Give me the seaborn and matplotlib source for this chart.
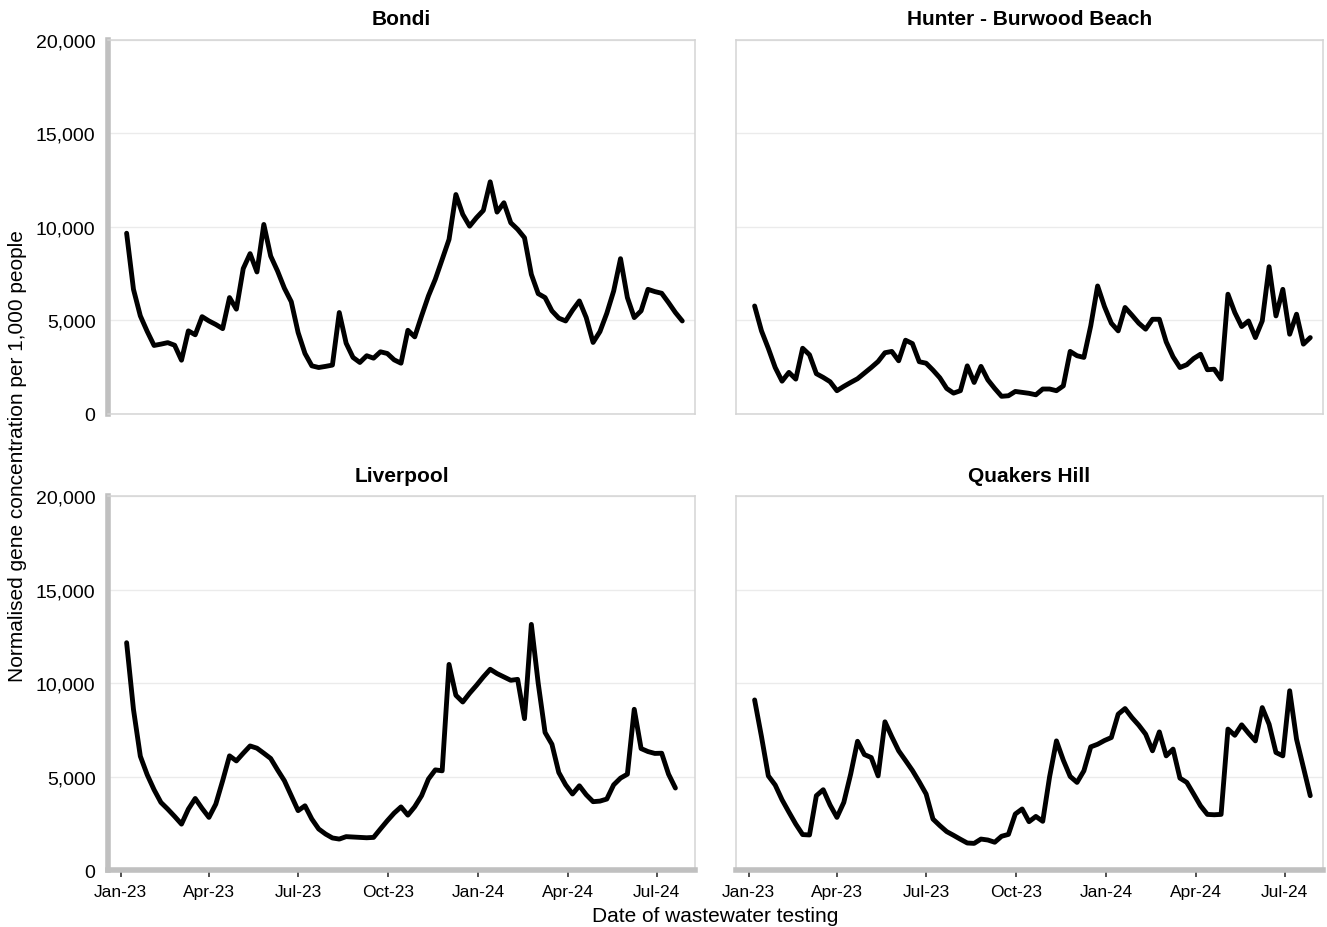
import pandas as pd
import seaborn as sns
import matplotlib.pyplot as plt
import matplotlib.dates as mdates
from matplotlib.ticker import StrMethodFormatter

# Weekly samples
start_date = '2023-01-07'

bondi = [9650, 6650, 5230, 4400, 3650, 3720, 3800, 3660, 2860, 4430,
         4220, 5190, 4960, 4770, 4550, 6210, 5590, 7760, 8560, 7580,
         10120, 8430, 7630, 6710, 5990, 4340, 3220, 2560, 2470, 2530,
         2600, 5410, 3770, 3010, 2740, 3100, 2970, 3310, 3220, 2880,
         2700, 4460, 4110, 5230, 6300, 7190, 8250, 9320, 11720, 10660,
         10030, 10480, 10870, 12400, 10780, 11280, 10210, 9860, 9410, 7450,
         6420, 6210, 5500, 5110, 4960, 5530, 6030, 5140, 3810, 4390,
         5370, 6560, 8290, 6210, 5140, 5500, 6650, 6530, 6440, 5940,
         5410, 4960]

hunter = [5760, 4430, 3490, 2470, 1740, 2210, 1850, 3500, 3150, 2140,
          1940, 1710, 1230, 1460, 1670, 1870, 2170, 2470, 2790, 3260,
          3330, 2830, 3930, 3750, 2780, 2700, 2330, 1920, 1350, 1100,
          1230, 2560, 1670, 2530, 1810, 1350, 930, 960, 1190, 1140,
          1090, 1010, 1320, 1320, 1230, 1490, 3330, 3100, 3010, 4700,
          6830, 5730, 4840, 4430, 5680, 5270, 4840, 4520, 5050, 5050,
          3840, 3040, 2470, 2620, 2950, 3180, 2350, 2380, 1850, 6390,
          5410, 4660, 4960, 4070, 4960, 7860, 5230, 6650, 4250, 5320,
          3720, 4070]

liverpool = [12170, 8600, 6100, 5110, 4310, 3630, 3270, 2880, 2470, 3270,
             3840, 3310, 2830, 3540, 4790, 6120, 5850, 6260, 6650, 6530,
             6260, 5980, 5370, 4790, 3990, 3190, 3450, 2740, 2210, 1940,
             1730, 1670, 1800, 1780, 1760, 1740, 1760, 2210, 2650, 3060,
             3390, 2950, 3400, 3990, 4880, 5370, 5320, 11010, 9360, 9000,
             9470, 9890, 10340, 10750, 10520, 10340, 10160, 10210, 8110, 13150,
             10000, 7370, 6740, 5230, 4570, 4080, 4520, 4040, 3670, 3700,
             3810, 4570, 4930, 5140, 8610, 6510, 6350, 6250, 6260, 5140,
             4400]

quakers = [9110, 7150, 5050, 4560, 3770, 3110, 2470, 1910, 1890, 3990,
           4310, 3490, 2830, 3630, 5140, 6900, 6190, 6030, 5050, 7940,
           7140, 6390, 5870, 5340, 4730, 4080, 2740, 2390, 2070, 1870,
           1660, 1460, 1440, 1670, 1620, 1500, 1820, 1920, 3010, 3280,
           2600, 2880, 2620, 5000, 6920, 5890, 5020, 4700, 5320, 6600,
           6740, 6940, 7100, 8350, 8650, 8170, 7760, 7280, 6390, 7400,
           6120, 6480, 4930, 4700, 4080, 3450, 2990, 2970, 2990, 7550,
           7220, 7780, 7330, 6920, 8700, 7810, 6300, 6120, 9600, 7010,
           5500, 3990]

sites = ['Bondi', 'Hunter - Burwood Beach', 'Liverpool', 'Quakers Hill']
series = [bondi, hunter, liverpool, quakers]

frames = []
for site, vals in zip(sites, series):
    dates = pd.date_range(start_date, periods=len(vals), freq='7D')
    frames.append(pd.DataFrame({'site': site, 'date': dates, 'value': vals}))
df = pd.concat(frames, ignore_index=True)

sns.set_theme(style='white')
plt.rcParams['font.family'] = ['Liberation Sans', 'DejaVu Sans']
plt.rcParams['text.color'] = 'black'
plt.rcParams['axes.labelcolor'] = 'black'
plt.rcParams['xtick.color'] = 'black'
plt.rcParams['ytick.color'] = 'black'

fig = plt.figure(figsize=(13.27, 9.28), dpi=100)

W, H = 1327, 928
lefts = [108, 736]
tops = [40.7, 497.3]
ax_w, ax_h = 587, 374

frame_col = '#d4d4d4'
thick_col = '#c0c0c0'

for i, site in enumerate(sites):
    row, col = divmod(i, 2)
    x0 = lefts[col] / W
    y0 = 1 - (tops[row] + ax_h) / H
    ax = fig.add_axes([x0, y0, ax_w / W, ax_h / H])

    sub = df[df['site'] == site]
    sns.lineplot(data=sub, x='date', y='value', color='black', linewidth=3.5, ax=ax)

    ax.set_ylim(0, 20000)
    ax.set_xlim(pd.Timestamp('2022-12-19'), pd.Timestamp('2024-08-09'))
    ax.set_yticks([0, 5000, 10000, 15000, 20000])
    ax.yaxis.set_major_formatter(StrMethodFormatter('{x:,.0f}'))
    ax.xaxis.set_major_locator(mdates.MonthLocator(bymonth=[1, 4, 7, 10]))
    ax.xaxis.set_major_formatter(mdates.DateFormatter('%b-%y'))
    ax.grid(axis='y', color='#ebebeb', linewidth=1)
    ax.set_axisbelow(True)

    for sp in ax.spines.values():
        sp.set_color(frame_col)
        sp.set_linewidth(1.1)
        sp.set_visible(True)
    if col == 0:
        ax.spines['left'].set_color(thick_col)
        ax.spines['left'].set_linewidth(4)
    if row == 1:
        ax.spines['bottom'].set_color(thick_col)
        ax.spines['bottom'].set_linewidth(4)

    ax.set_title(site, fontsize=15, fontweight='bold', pad=11, color='black')
    ax.set_xlabel('')
    ax.set_ylabel('')

    ax.tick_params(axis='y', length=0, pad=9, labelsize=14,
                   labelleft=(col == 0))
    if row == 1:
        ax.tick_params(axis='x', bottom=True, length=5, width=1.2,
                       color='#333333', pad=5, labelsize=12.5)
    else:
        ax.tick_params(axis='x', bottom=False, labelbottom=False)

fig.text(715 / W, 1 - 917 / H, 'Date of wastewater testing',
         ha='center', va='center', fontsize=15)
fig.text(18 / W, 1 - 456 / H, 'Normalised gene concentration per 1,000 people',
         ha='center', va='center', rotation=90, fontsize=15)

plt.savefig('out.png', dpi=100)
